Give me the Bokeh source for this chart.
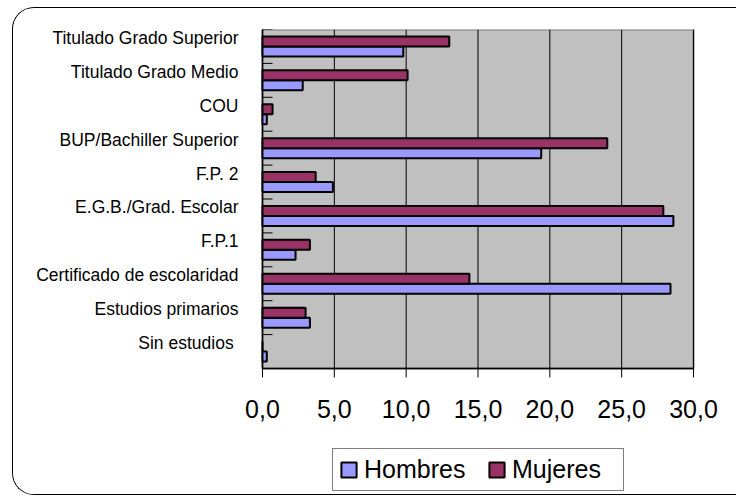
import math
from bokeh.plotting import figure
from bokeh.models import ColumnDataSource, Range1d, FixedTicker, Legend, LegendItem
from bokeh.core.properties import value
from bokeh.transform import dodge
from bokeh.embed import file_html
from bokeh.resources import INLINE

# ---- data (bottom to top) ----
categories = ["Sin estudios ", "Estudios primarios", "Certificado de escolaridad", "F.P.1",
              "E.G.B./Grad. Escolar", "F.P. 2", "BUP/Bachiller Superior", "COU",
              "Titulado Grado Medio", "Titulado Grado Superior"]
hombres = [0.3, 3.3, 28.4, 2.3, 28.6, 4.9, 19.4, 0.3, 2.8, 9.8]
mujeres = [0.0, 3.0, 14.4, 3.3, 27.9, 3.7, 24.0, 0.7, 10.1, 13.0]
x_ticks = [0, 5, 10, 15, 20, 25, 30]
x_tick_labels = ["0,0", "5,0", "10,0", "15,0", "20,0", "25,0", "30,0"]

n = len(categories)
x_max = 30
centers = [i + 0.5 for i in range(n)]
bounds = [i for i in range(n + 1)]
label_pos = [i + 0.75 for i in range(n)]   # Excel draws labels slightly above centre

FONT = "Liberation Sans"
W, H = 724, 488
TOP = 21
PAD_L, PAD_R = 20, 30             # extra frame room so edge tick labels are not clipped
LEFT, RIGHT = 249 - PAD_L, 44 - PAD_R
PLOT_PX_H = 339                   # pixel height of the grey plot area
PLOT_PX_W = W - 249 - 44          # pixel width of the grey plot area
FRAME_PX_H = H - TOP
y_start = -(FRAME_PX_H - PLOT_PX_H) / PLOT_PX_H * n
x_start = -PAD_L / PLOT_PX_W * x_max
x_end = x_max + PAD_R / PLOT_PX_W * x_max

src = ColumnDataSource(dict(pos=centers, hombres=hombres, mujeres=mujeres))
xsrc = ColumnDataSource(dict(x=x_ticks, y=[0] * len(x_ticks), text=x_tick_labels))
bsrc = ColumnDataSource(dict(x=[0] * len(bounds), y=bounds))

p = figure(width=W, height=H, output_backend="svg", toolbar_location=None,
           x_range=Range1d(x_start, x_end), y_range=Range1d(y_start, n),
           x_axis_location=None,
           min_border_left=LEFT, min_border_right=RIGHT, min_border_top=TOP, min_border_bottom=0,
           background_fill_color="white", border_fill_color="white",
           outline_line_color=None,
           margin=(7, 0, 0, 12),
           styles={"border": "1.5px solid black", "border-right": "none",
                   "border-radius": "22px 0 0 22px", "overflow": "hidden",
                   "background-color": "white"})
p.grid.visible = False

# grey plot area with grey outline
p.quad(left=[0], right=[x_max], bottom=[0], top=[n], fill_color="#C0C0C0",
       line_color="#808080", line_width=2)
# vertical grid lines
p.segment(x0="x", y0=0, x1="x", y1=n, source=xsrc, line_color="black", line_width=1)
# black axis lines (left and bottom)
p.segment(x0=[0, 0], y0=[0, 0], x1=[0, x_max], y1=[n, 0], line_color="black", line_width=1.5)
# category boundary ticks (pointing into the plot)
p.ray(x="x", y="y", length=10, length_units="screen", angle=0,
      source=bsrc, line_color="black", line_width=1)

bar_h = 0.295
off = bar_h / 2
rh = p.hbar(y=dodge("pos", -off, range=p.y_range), right="hombres", left=0, height=bar_h,
            source=src, fill_color="#9999FF", line_color="black", line_width=2)
rm = p.hbar(y=dodge("pos", off, range=p.y_range), right="mujeres", left=0, height=bar_h,
            source=src, fill_color="#993366", line_color="black", line_width=2)

# x ticks (outward) and labels
p.ray(x="x", y="y", length=9, length_units="screen", angle=-math.pi / 2,
      source=xsrc, line_color="black", line_width=1)
p.text(x="x", y="y", text="text", source=xsrc, y_offset=40,
       text_align="center", text_baseline="middle",
       text_font=value(FONT), text_font_size="25px", text_color="black")

# y axis (category labels only)
ya = p.yaxis[0]
ya.ticker = FixedTicker(ticks=label_pos)
ya.major_label_overrides = {c: l for c, l in zip(label_pos, categories)}
ya.major_label_text_font = FONT
ya.major_label_text_font_size = "17.5px"
ya.major_label_text_color = "black"
ya.major_tick_line_color = None
ya.major_tick_in = 0
ya.major_tick_out = 0
ya.minor_tick_line_color = None
ya.axis_line_color = None
ya.major_label_standoff = 24 - PAD_L

# legend (inside the tall frame, below the axis labels)
legend = Legend(items=[LegendItem(label="Hombres", renderers=[rh]),
                       LegendItem(label="Mujeres", renderers=[rm])],
                orientation="horizontal", location=(70 + PAD_L, 5),
                label_text_font=FONT, label_text_font_size="25px", label_text_color="black",
                glyph_width=19, glyph_height=19, label_standoff=6, spacing=18,
                label_width=105, padding=6, margin=0,
                border_line_color="black", border_line_width=1,
                background_fill_color="white", background_fill_alpha=1.0)
p.add_layout(legend)

open("out.html", "w").write(file_html(p, INLINE))
